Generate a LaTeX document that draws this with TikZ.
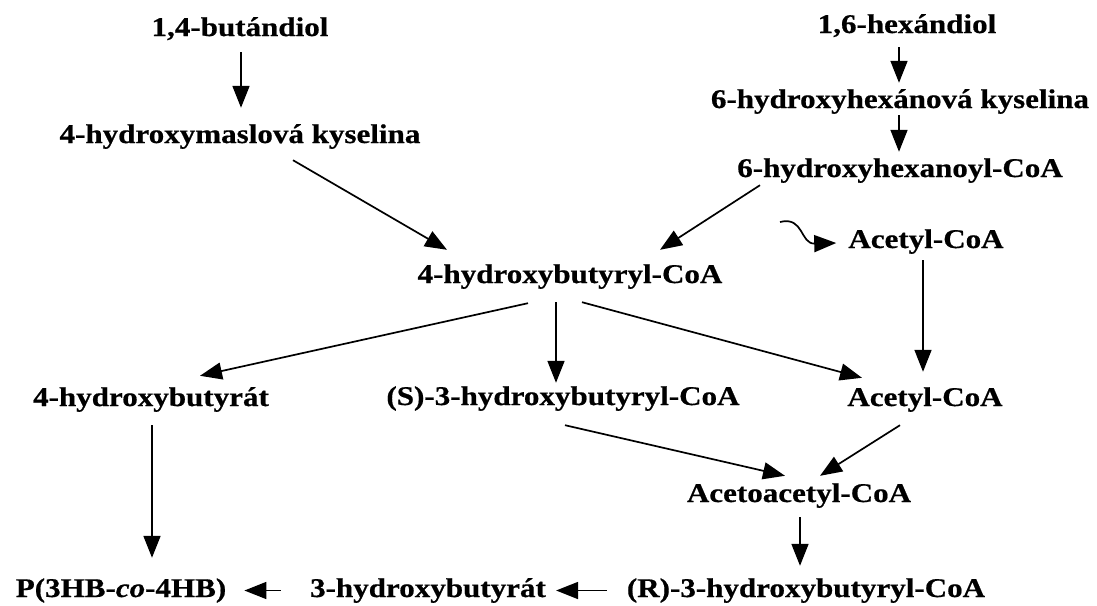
\documentclass[tikz,border=0pt]{standalone}
\usepackage{fontspec}
\setmainfont{Liberation Serif}[FakeStretch=1.15,FakeBold=0.6]
\usetikzlibrary{arrows.meta}

\begin{document}
\begin{tikzpicture}[x=1pt,y=-1pt,
	met/.style={font=\bfseries\fontsize{27}{30}\selectfont, anchor=base, inner sep=0pt, text height=19pt, text depth=6pt},
	arr/.style={line width=1.7pt, -{Triangle[length=22pt,width=17pt]}}]

	\useasboundingbox (0,0) rectangle (1097,605);

	\node[met] (b14) at (240,36) {1,4-butándiol};
	\node[met] (hmk) at (240,143) {4-hydroxymaslová kyselina};
	\node[met] (h16) at (907,33) {1,6-hexándiol};
	\node[met] (hhk) at (900,108) {6-hydroxyhexánová kyselina};
	\node[met] (hhc) at (900,177) {6-hydroxyhexanoyl-CoA};
	\node[met] (ac1) at (926,248) {Acetyl-CoA};
	\node[met] (hbc) at (570,283) {4-hydroxybutyryl-CoA};
	\node[met] (hbt) at (151,406) {4-hydroxybutyrát};
	\node[met] (s3) at (563,405) {(S)-3-hydroxybutyryl-CoA};
	\node[met] (ac2) at (925,406) {Acetyl-CoA};
	\node[met] (aac) at (799,502) {Acetoacetyl-CoA};
	\node[met] (p34) at (121,597) {P(3HB-\textit{co}-4HB)};
	\node[met] (hb3) at (428,597) {3-hydroxybutyrát};
	\node[met] (r3) at (806,597) {(R)-3-hydroxybutyryl-CoA};

	\coordinate (cv) at (780,222);

	\draw[arr] ([shift={(1,10)}]b14.south) -- ([shift={(1,-16)}]hmk.north);
	\draw[arr] ([shift={(-8,8)}]h16.south) -- ([shift={(-1,-6)}]hhk.north);
	\draw[arr] ([shift={(-1,1)}]hhk.south) -- ([shift={(-1,-6)}]hhc.north);
	\draw[arr] ([shift={(53,11)}]hmk.south) -- ([shift={(-123,-14)}]hbc.north);
	\draw[arr] ([shift={(-140,2)}]hhc.south) -- ([shift={(90,-14)}]hbc.north);
	\draw[arr] (cv) .. controls (804,216) and (800,244) .. ([shift={(-12,1.5)}]ac1.west);
	\draw[arr] ([shift={(-3,6)}]ac1.south) -- ([shift={(-2,-15)}]ac2.north);

	\draw[arr] ([shift={(-42,14)}]hbc.south) -- ([shift={(49,-11)}]hbt.north);
	\draw[arr] ([shift={(-14,13)}]hbc.south) -- ([shift={(-7,-3)}]s3.north);
	\draw[arr] ([shift={(12,13)}]hbc.south) -- ([shift={(-63,-9)}]ac2.north);

	\draw[arr] ([shift={(1,13)}]hbt.south) -- ([shift={(31,-20)}]p34.north);
	\draw[arr] ([shift={(2,14)}]s3.south) -- ([shift={(-14,-7)}]aac.north);
	\draw[arr] ([shift={(-25,13)}]ac2.south) -- ([shift={(21,-7)}]aac.north);
	\draw[arr] ([shift={(1,9)}]aac.south) -- ([shift={(-6,-12)}]r3.north);
	\draw[arr] ([shift={(-20,0)}]r3.west) -- ([shift={(10,0)}]hb3.east);
	\draw[arr] ([shift={(-29,0)}]hb3.west) -- ([shift={(18,0)}]p34.east);

\end{tikzpicture}
\end{document}
